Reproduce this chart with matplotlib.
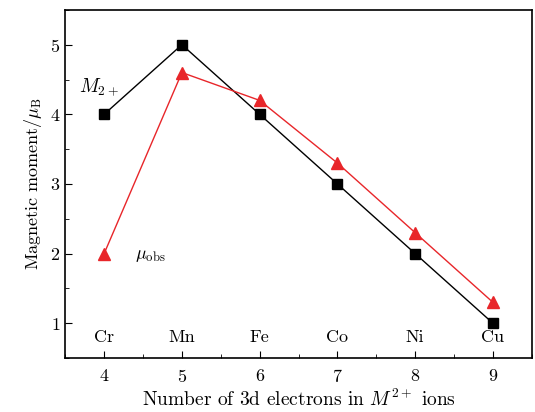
import matplotlib
matplotlib.use("Agg")
import matplotlib.pyplot as plt
from matplotlib.ticker import MultipleLocator

plt.rcParams['font.family'] = 'serif'
plt.rcParams['font.serif'] = ['cmr10', 'DejaVu Serif']
plt.rcParams['mathtext.fontset'] = 'cm'
plt.rcParams['axes.formatter.use_mathtext'] = True

# data
electrons = [4, 5, 6, 7, 8, 9]
ions = ['Cr', 'Mn', 'Fe', 'Co', 'Ni', 'Cu']
m_calc = [4, 5, 4, 3, 2, 1]
m_obs = [2, 4.6, 4.2, 3.3, 2.3, 1.3]

fig = plt.figure(figsize=(5.35, 4.12), dpi=100)
ax = fig.add_axes([0.122, 0.131, 0.872, 0.845])

ax.plot(electrons, m_calc, color='black', lw=1, marker='s', ms=7, zorder=3)
ax.plot(electrons, m_obs, color='#e8262a', lw=1, marker='^', ms=9, zorder=3)

for x, name in zip(electrons, ions):
    ax.text(x, 0.8, name, ha='center', va='center', fontsize=13)

ax.text(3.68, 4.39, r'$M_{2+}$', fontsize=14, ha='left', va='center')
ax.text(4.4, 1.97, r'$\mu_{\rm obs}$', fontsize=13, ha='left', va='center')

ax.set_xlim(3.5, 9.5)
ax.set_ylim(0.5, 5.5)
ax.xaxis.set_major_locator(MultipleLocator(1))
ax.xaxis.set_minor_locator(MultipleLocator(0.5))
ax.yaxis.set_major_locator(MultipleLocator(1))
ax.yaxis.set_minor_locator(MultipleLocator(0.5))
ax.tick_params(which='both', direction='in', labelsize=13)
ax.tick_params(which='major', length=5)
ax.tick_params(which='minor', length=3)
ax.tick_params(axis='x', pad=7)
for s in ax.spines.values():
    s.set_linewidth(1.2)

ax.set_xlabel(r'Number of 3d electrons in $M^{2+}$ ions', fontsize=14, labelpad=3)
ax.set_ylabel(r'Magnetic moment/$\mu_{\rm B}$', fontsize=13)

fig.savefig('out.png', dpi=100)
